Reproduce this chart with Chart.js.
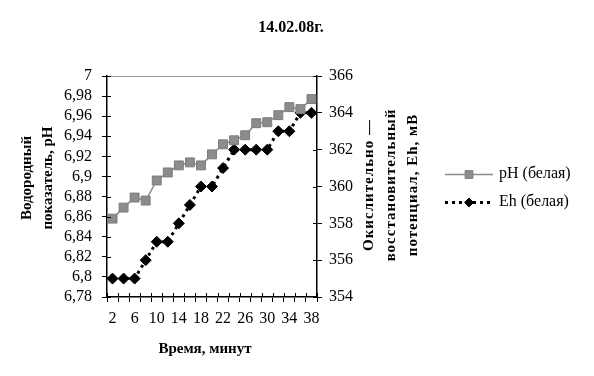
<!DOCTYPE html>
<html>
<head>
<meta charset="utf-8">
<script src="https://cdn.jsdelivr.net/npm/chart.js@4/dist/chart.umd.min.js"></script>
<style>
  html, body { margin: 0; padding: 0; background: #fff; }
  #wrap { width: 594px; height: 376px; }
</style>
</head>
<body>
<div id="wrap"><canvas id="chart" width="594" height="376"></canvas></div>
<script>
// ---- data ----
const minutes = [2, 4, 6, 8, 10, 12, 14, 16, 18, 20, 22, 24, 26, 28, 30, 32, 34, 36, 38];
const phValues = [6.858, 6.869, 6.879, 6.876, 6.896, 6.904, 6.911, 6.914, 6.911, 6.922,
                  6.932, 6.936, 6.941, 6.953, 6.954, 6.961, 6.969, 6.967, 6.977];
const ehValues = [355, 355, 355, 356, 357, 357, 358, 359, 360, 360,
                  361, 362, 362, 362, 362, 363, 363, 364, 364];
const phLabel = "pH (белая)";
const ehLabel = "Eh (белая)";
const chartTitle = "14.02.08г.";
const xTitle = "Время, минут";
const leftTitle = ["Водородный", "показатель, pH"];
const rightTitle = ["Окислительно —", "восстановительный", "потенциал, Eh, мВ"];

const SERIF = "'Liberation Serif', 'DejaVu Serif', serif";

// draws title, axis titles, legend, top border and inner half of the ticks
const decorPlugin = {
    id: "decor",
    afterDraw(chart) {
        const ctx = chart.ctx;
        const area = chart.chartArea;
        const { x, y, y1 } = chart.scales;

        ctx.save();

        // top border
        ctx.strokeStyle = "#9a9a9a";
        ctx.lineWidth = 1;
        ctx.beginPath();
        ctx.moveTo(area.left, area.top + 0.5);
        ctx.lineTo(area.right, area.top + 0.5);
        ctx.stroke();

        // inner halves of the cross ticks
        ctx.strokeStyle = "#000";
        ctx.lineWidth = 1;
        ctx.beginPath();
        y.ticks.forEach((t, i) => {
            const py = Math.round(y.getPixelForTick(i)) + 0.5;
            ctx.moveTo(area.left, py);
            ctx.lineTo(area.left + 4, py);
        });
        y1.ticks.forEach((t, i) => {
            const py = Math.round(y1.getPixelForTick(i)) + 0.5;
            ctx.moveTo(area.right, py);
            ctx.lineTo(area.right - 4, py);
        });
        for (let k = 0; k <= minutes.length; k++) {
            const px = Math.round(x.getPixelForValue(k - 0.5)) + 0.5;
            ctx.moveTo(px, area.bottom);
            ctx.lineTo(px, area.bottom - 4);
        }
        ctx.stroke();

        // chart title
        ctx.fillStyle = "#000";
        ctx.textAlign = "center";
        ctx.textBaseline = "middle";
        ctx.font = "bold 16px " + SERIF;
        ctx.fillText(chartTitle, 291, 28);

        // x axis title
        ctx.font = "bold 15px " + SERIF;
        ctx.fillText(xTitle, 205, 349);

        // left axis title
        ctx.save();
        ctx.translate(0, 178);
        ctx.rotate(-Math.PI / 2);
        ctx.fillText(leftTitle[0], 0, 27);
        ctx.fillText(leftTitle[1], 0, 48);
        ctx.restore();

        // right axis title
        ctx.save();
        ctx.translate(0, 185);
        ctx.rotate(-Math.PI / 2);
        ctx.letterSpacing = "1px";
        ctx.fillText(rightTitle[0], 0, 369);
        ctx.fillText(rightTitle[1], 0, 391);
        ctx.fillText(rightTitle[2], 0, 413);
        ctx.restore();

        // legend
        const rows = [174, 202];
        const legendRadius = [5.5, 4.5];
        chart.data.datasets.forEach((ds, i) => {
            const ly = rows[i] + 0.5;
            ctx.save();
            ctx.strokeStyle = ds.borderColor;
            ctx.lineWidth = ds.borderWidth;
            ctx.setLineDash(ds.borderDash || []);
            ctx.beginPath();
            ctx.moveTo(445, ly);
            ctx.lineTo(493, ly);
            ctx.stroke();
            ctx.setLineDash([]);
            ctx.fillStyle = ds.pointBackgroundColor;
            ctx.strokeStyle = ds.pointBorderColor;
            ctx.lineWidth = 1;
            Chart.helpers.drawPoint(ctx, {
                pointStyle: ds.pointStyle, radius: legendRadius[i], rotation: 0, borderWidth: 1
            }, 469, ly);
            ctx.restore();

            ctx.fillStyle = "#000";
            ctx.textAlign = "left";
            ctx.textBaseline = "middle";
            ctx.font = "16px " + SERIF;
            ctx.fillText(ds.label, 499, rows[i]);
        });

        ctx.restore();
    }
};

function commaLabel(v) {
    return String(parseFloat(Number(v).toFixed(2))).replace(".", ",");
}

const tickFont = { family: SERIF, size: 16 };

new Chart(document.getElementById("chart"), {
    type: "line",
    data: {
        labels: minutes,
        datasets: [
            {
                label: phLabel,
                data: phValues,
                yAxisID: "y",
                borderColor: "#8a8a8a",
                borderWidth: 1.5,
                pointStyle: "rect",
                pointRadius: 6.3,
                pointBackgroundColor: "#8c8c8c",
                pointBorderColor: "#7c7c7c",
                pointBorderWidth: 1,
                tension: 0
            },
            {
                label: ehLabel,
                data: ehValues,
                yAxisID: "y1",
                borderColor: "#000",
                borderWidth: 3,
                borderDash: [3, 4],
                pointStyle: "rectRot",
                pointRadius: 5.5,
                pointBackgroundColor: "#000",
                pointBorderColor: "#000",
                pointBorderWidth: 1,
                tension: 0
            }
        ]
    },
    options: {
        responsive: false,
        animation: false,
        layout: { padding: { top: 76, left: 0, right: 0, bottom: 0 } },
        plugins: {
            legend: { display: false },
            title: { display: false },
            tooltip: { enabled: false }
        },
        scales: {
            x: {
                offset: true,
                border: { display: true, color: "#000", width: 1.5 },
                grid: { offset: true, drawOnChartArea: false, drawTicks: true, tickLength: 5, color: "#000" },
                ticks: {
                    autoSkip: false,
                    maxRotation: 0,
                    color: "#000",
                    font: tickFont,
                    padding: 7,
                    callback: (val, idx) => idx % 2 === 0 ? String(minutes[idx]) : ""
                },
                afterFit: s => { s.height = 79; }
            },
            y: {
                position: "left",
                min: 6.78,
                max: 7,
                border: { display: true, color: "#000", width: 1.5 },
                grid: { drawOnChartArea: false, drawTicks: true, tickLength: 5, color: "#000" },
                ticks: { stepSize: 0.02, autoSkip: false, color: "#000", font: tickFont, padding: 10, callback: commaLabel },
                afterFit: s => { s.width = 107; }
            },
            y1: {
                position: "right",
                min: 354,
                max: 366,
                border: { display: true, color: "#000", width: 1.5 },
                grid: { drawOnChartArea: false, drawTicks: true, tickLength: 5, color: "#000" },
                ticks: { stepSize: 2, autoSkip: false, color: "#000", font: tickFont, padding: 7 },
                afterFit: s => { s.width = 277; }
            }
        }
    },
    plugins: [decorPlugin]
});
</script>
</body>
</html>
